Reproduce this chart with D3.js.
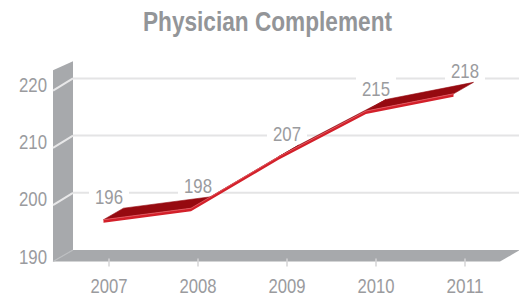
<!DOCTYPE html>
<html>
<head>
<meta charset="utf-8">
<script src="https://cdn.jsdelivr.net/npm/d3@7"></script>
<style>
  body { margin: 0; background: #fff; }
  text { font-family: "Liberation Sans Narrow", "Liberation Sans", Arial, sans-serif; }
</style>
</head>
<body>
<div id="chart"></div>
<script>
const years = ["2007", "2008", "2009", "2010", "2011"]
const physicians = [196, 198, 207, 215, 218]
const yTicks = [190, 200, 210, 220]
const title = "Physician Complement"

const width = 519
const height = 297
// depth of the 3d box (back plane -> front plane)
const depth = { dx: -20, dy: 11.5 }

const svg = d3.select("div#chart").append("svg")
    .attr("width", width)
    .attr("height", height)

const x = d3.scalePoint().domain(years).range([109, 465])
const xr = d3.scalePoint().domain(years).range([103.5, 453.5])
const y = d3.scaleLinear().domain([190, 220]).range([250, 78.4])

const wallX = 73
const wallTop = y(223)
const floorY = y(190)
const wallCol = "#a7a9ac"

// title
svg.append("text")
    .attr("x", 267.5).attr("y", 31)
    .attr("text-anchor", "middle")
    .attr("font-size", 27).attr("font-weight", "bold")
    .attr("fill", "#939598")
    .attr("textLength", 249).attr("lengthAdjust", "spacingAndGlyphs")
    .text(title)

// back gridlines
svg.append("g").selectAll("line")
    .data(yTicks.slice(1))
    .join("line")
    .attr("x1", wallX).attr("x2", width)
    .attr("y1", d => y(d)).attr("y2", d => y(d))
    .attr("stroke", "#e4e4e5").attr("stroke-width", 2)

// side wall
svg.append("path")
    .attr("d", `M${wallX},${wallTop}L${wallX},${floorY}L${wallX + depth.dx},${floorY + depth.dy}L${wallX + depth.dx},${wallTop + 9}Z`)
    .attr("fill", wallCol)

svg.append("g").selectAll("line")
    .data(yTicks.slice(1))
    .join("line")
    .attr("x1", wallX).attr("x2", wallX + depth.dx)
    .attr("y1", d => y(d)).attr("y2", d => y(d) + 12.3)
    .attr("stroke", "#e8e8e9").attr("stroke-width", 2)

// floor
const floorRight = width + 1
svg.append("path")
    .attr("d", `M${wallX},${floorY}L${floorRight},${floorY}L${floorRight + depth.dx},${floorY + depth.dy}L${wallX + depth.dx},${floorY + depth.dy}Z`)
    .attr("fill", wallCol)
svg.append("line")
    .attr("x1", wallX).attr("y1", floorY)
    .attr("x2", wallX + depth.dx).attr("y2", floorY + depth.dy)
    .attr("stroke", "#bdbfc1").attr("stroke-width", 1.2)

// y labels
svg.append("g").selectAll("text")
    .data(yTicks)
    .join("text")
    .attr("x", 47).attr("y", d => y(d) + 13.5)
    .attr("text-anchor", "end")
    .attr("font-size", 21).attr("fill", "#9a9b9e")
    .attr("textLength", 28).attr("lengthAdjust", "spacingAndGlyphs")
    .text(d => d)

// x ticks + labels
const xg = svg.append("g")
xg.selectAll("line")
    .data(years)
    .join("line")
    .attr("x1", d => x(d)).attr("x2", d => x(d))
    .attr("y1", floorY + depth.dy - 3).attr("y2", floorY + depth.dy + 5)
    .attr("stroke", "#d4d5d6").attr("stroke-width", 1.5)
xg.selectAll("text")
    .data(years)
    .join("text")
    .attr("x", d => x(d)).attr("y", 293)
    .attr("text-anchor", "middle")
    .attr("font-size", 21).attr("fill", "#9a9b9e")
    .attr("textLength", 37).attr("lengthAdjust", "spacingAndGlyphs")
    .text(d => d)

// value labels with white boxes
const data = years.map((yr, i) => ({ year: yr, value: physicians[i] }))
const lab = svg.append("g").selectAll("g")
    .data(data)
    .join("g")
    .attr("transform", d => `translate(${x(d.year)},${y(d.value) - 19})`)
lab.append("rect")
    .attr("x", -20).attr("y", -13).attr("width", 40).attr("height", 26)
    .attr("fill", "#fff")
lab.append("text")
    .attr("y", 7.5)
    .attr("text-anchor", "middle")
    .attr("font-size", 21).attr("fill", "#9a9b9e")
    .attr("textLength", 28).attr("lengthAdjust", "spacingAndGlyphs")
    .text(d => d.value)

// ribbon
const front = data.map(d => [xr(d.year), y(d.value) + 4])
const back = front.map(p => [p[0] - depth.dx, p[1] - depth.dy])
const ribbon = svg.append("g")
for (let i = 0; i < front.length - 1; i++) {
    ribbon.append("path")
        .attr("d", d3.line()([front[i], front[i + 1], back[i + 1], back[i]]) + "Z")
        .attr("fill", "#960a10")
        .attr("stroke", "#960a10").attr("stroke-width", 0.6)
}
const thick = 3
const band = front.concat(front.slice().reverse().map(p => [p[0], p[1] + thick]))
ribbon.append("path")
    .attr("d", d3.line()(band) + "Z")
    .attr("fill", "#d3202a")
ribbon.append("path")
    .attr("d", d3.line()(front))
    .attr("fill", "none")
    .attr("stroke", "#e8626a").attr("stroke-width", 0.8)
</script>
</body>
</html>
